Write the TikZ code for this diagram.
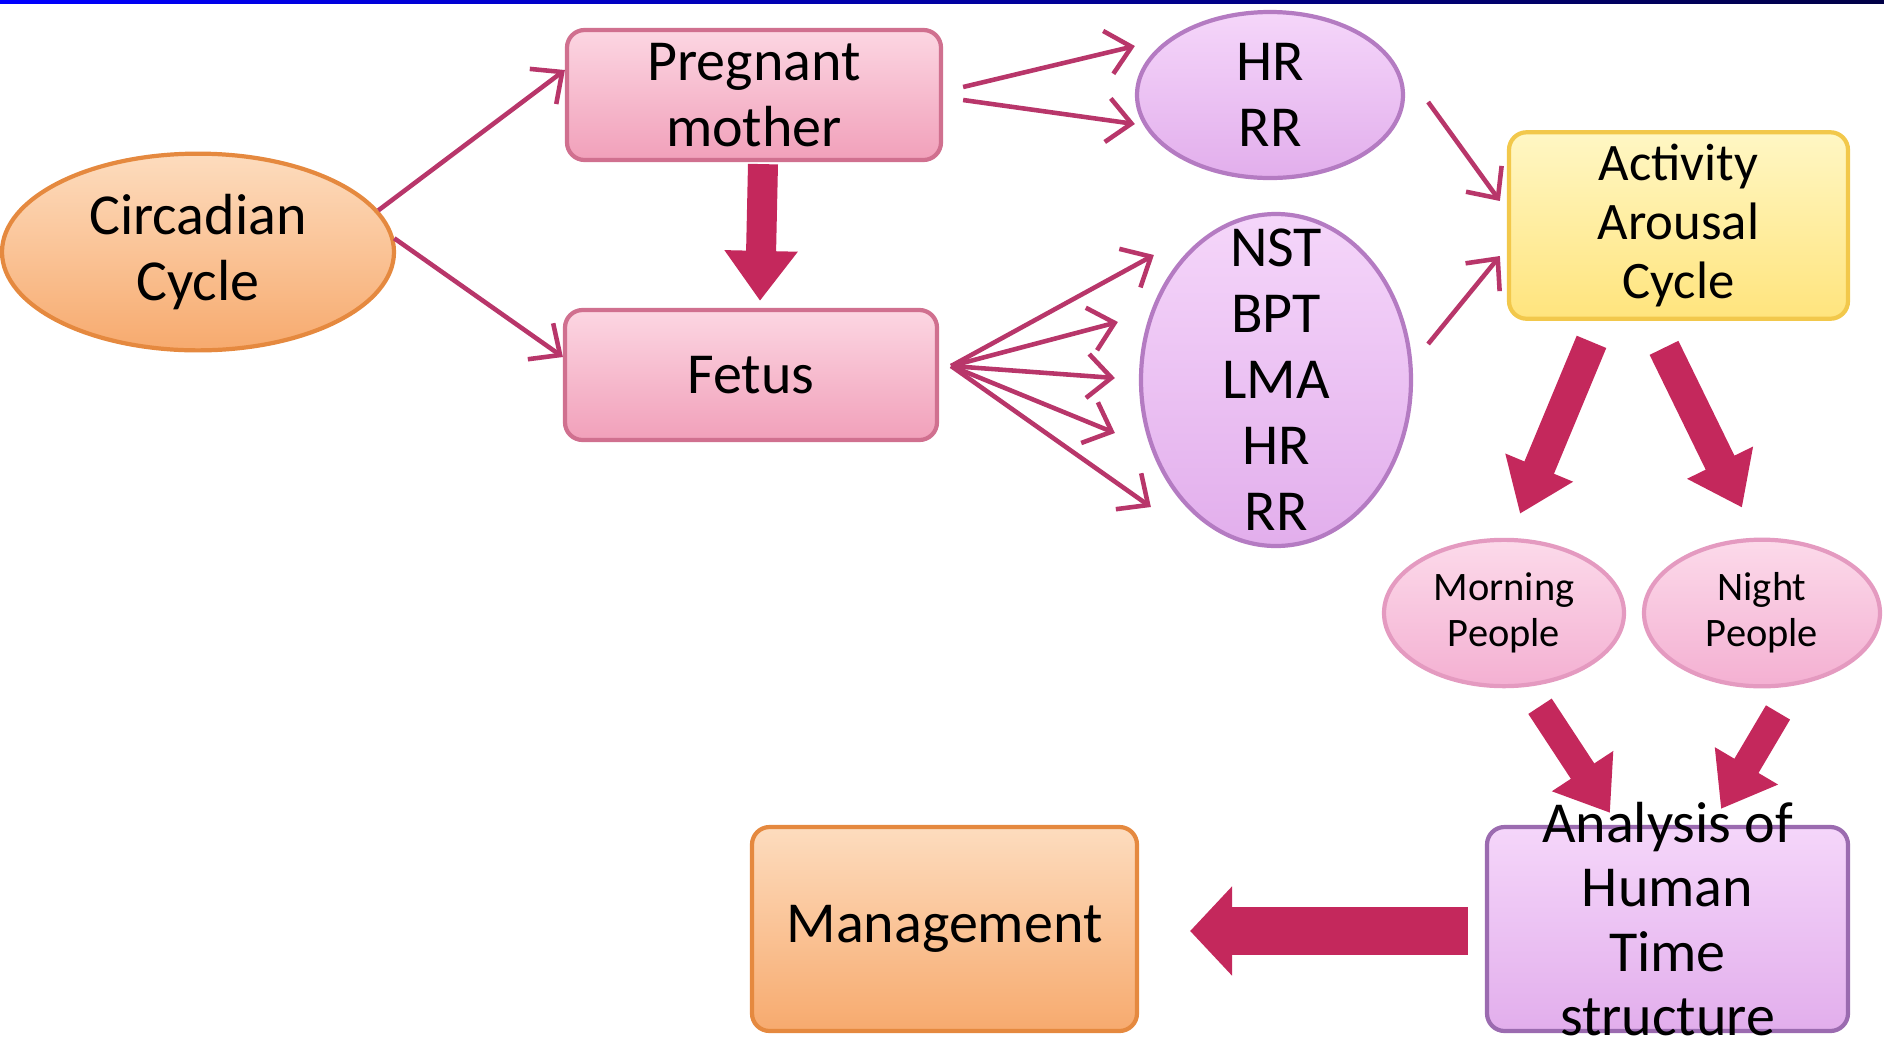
\documentclass[tikz,border=0pt]{standalone}
\usepackage{fontspec}
\setmainfont{Carlito}
\usetikzlibrary{shapes.geometric,arrows.meta}

\definecolor{linkred}{RGB}{184,54,106}
\definecolor{bigred}{RGB}{196,40,92}
\definecolor{orgtop}{RGB}{253,220,190}
\definecolor{orgbot}{RGB}{247,170,110}
\definecolor{orgline}{RGB}{229,137,63}
\definecolor{pnktop}{RGB}{252,214,226}
\definecolor{pnkbot}{RGB}{241,160,186}
\definecolor{pnkline}{RGB}{208,112,143}
\definecolor{liltop}{RGB}{245,214,250}
\definecolor{lilbot}{RGB}{226,174,236}
\definecolor{lilline}{RGB}{180,123,194}
\definecolor{yeltop}{RGB}{255,247,196}
\definecolor{yelbot}{RGB}{255,228,125}
\definecolor{yelline}{RGB}{242,200,75}
\definecolor{rostop}{RGB}{252,218,234}
\definecolor{rosbot}{RGB}{244,176,210}
\definecolor{rosline}{RGB}{228,154,192}
\definecolor{anline}{RGB}{155,107,176}

\begin{document}
\begin{tikzpicture}[
  txt/.style={align=center, text=black, font=\fontsize{16.5}{18.8}\selectfont},
  box/.style={rectangle, rounded corners=5pt, line width=1.2pt, txt},
  oval/.style={ellipse, line width=1.2pt, txt},
  link/.style={draw=linkred, line width=1.3pt, -{Straight Barb[length=2.4mm,width=4.4mm]}},
  bigarrow/.style={draw=bigred, line width=0.3cm, -{Triangle[length=0.5cm,width=0.7cm]}}
]
\useasboundingbox (0,0) rectangle (18.84,-10.53);
\shade[left color=blue, right color={rgb,255:red,0;green,0;blue,70}] (0,0) rectangle (18.84,-0.03);

\node[oval, draw=orgline, top color=orgtop, bottom color=orgbot, minimum width=3.92cm, minimum height=1.86cm] (circ) at (1.98,-2.52) {Circadian\\Cycle};
\node[box, draw=pnkline, top color=pnktop, bottom color=pnkbot, minimum width=3.74cm, minimum height=1.3cm] (mother) at (7.54,-0.95) {Pregnant\\mother};
\node[box, draw=pnkline, top color=pnktop, bottom color=pnkbot, minimum width=3.72cm, minimum height=1.3cm] (fetus) at (7.51,-3.75) {Fetus};
\node[oval, draw=lilline, top color=liltop, bottom color=lilbot, minimum width=2.66cm, minimum height=1.66cm, inner sep=0pt] (hrrr) at (12.70,-0.95) {HR\\RR};
\node[oval, draw=lilline, top color=liltop, bottom color=lilbot, minimum width=2.7cm, minimum height=3.32cm] (nst) at (12.76,-3.80) {};
\node[txt] (nsttxt) at (nst) {NST\\BPT\\LMA\\HR\\RR};
\node[box, draw=yelline, top color=yeltop, bottom color=yelbot, minimum width=3.39cm, minimum height=1.79cm, font=\fontsize{15}{16.8}\selectfont] (act) at (16.785,-2.255) {Activity\\Arousal\\Cycle};
\node[oval, draw=rosline, top color=rostop, bottom color=rosbot, minimum width=2.4cm, minimum height=1.32cm, font=\fontsize{11.5}{13}\selectfont] (morn) at (15.04,-6.13) {Morning\\People};
\node[oval, draw=rosline, top color=rostop, bottom color=rosbot, minimum width=2.36cm, minimum height=1.32cm, font=\fontsize{11.5}{13}\selectfont] (night) at (17.62,-6.13) {Night\\People};
\node[box, draw=anline, top color=liltop, bottom color=lilbot, minimum width=3.61cm, minimum height=2.04cm] (anal) at (16.675,-9.29) {};
\node[txt, font=\fontsize{16.5}{18.3}\selectfont] (analtxt) at ([yshift=1mm]anal.center) {Analysis of\\Human\\Time\\structure};
\node[box, draw=orgline, top color=orgtop, bottom color=orgbot, minimum width=3.85cm, minimum height=2.04cm] (mgmt) at (9.445,-9.29) {Management};

\draw[link] (circ.13) -- ([yshift=2.5mm]mother.west);
\draw[link] (circ.4) -- ([yshift=1.8mm]fetus.west);
\draw[link] ([shift={(2mm,0.8mm)}]mother.east) -- ([yshift=4.9mm]hrrr.west);
\draw[link] ([shift={(2mm,-0.5mm)}]mother.east) -- ([yshift=-2.9mm]hrrr.west);
\foreach \dx/\dy in {0.15/1.25,-0.21/0.58,-0.24/0.02,-0.24/-0.53,0.12/-1.27}
  \draw[link] ([shift={(1.2mm,0.9mm)}]fetus.east) -- ([shift={(\dx,\dy)}]nst.west);
\draw[link] ([shift={(2.3mm,-0.7mm)}]hrrr.east) -- ([shift={(-0.7mm,2.45mm)}]act.west);
\draw[link] ([shift={(1.5mm,3.6mm)}]nst.east) -- ([shift={(-0.7mm,-3.05mm)}]act.west);

\draw[bigarrow] ([shift={(0.9mm,-0.2mm)}]mother.south) -- ([shift={(0.9mm,0.7mm)}]fetus.north);
\draw[bigarrow, line width=0.32cm] ([shift={(-0.87,-0.21)}]act.south) -- ([shift={(0.16,0.24)}]morn.north);
\draw[bigarrow, line width=0.32cm] ([shift={(-0.145,-0.27)}]act.south) -- ([shift={(-0.2,0.3)}]night.north);
\draw[bigarrow, line width=0.28cm] ([shift={(0.36,-0.18)}]morn.south) -- ([shift={(-0.575,0.12)}]anal.north);
\draw[bigarrow, line width=0.28cm] ([shift={(0.16,-0.24)}]night.south) -- ([shift={(0.535,0.16)}]anal.north);
\draw[bigarrow, line width=0.48cm, -{Triangle[length=0.42cm,width=0.87cm]}] ([shift={(-0.17,-0.02)}]anal.west) -- ([shift={(0.51,-0.02)}]mgmt.east);
\end{tikzpicture}
\end{document}
